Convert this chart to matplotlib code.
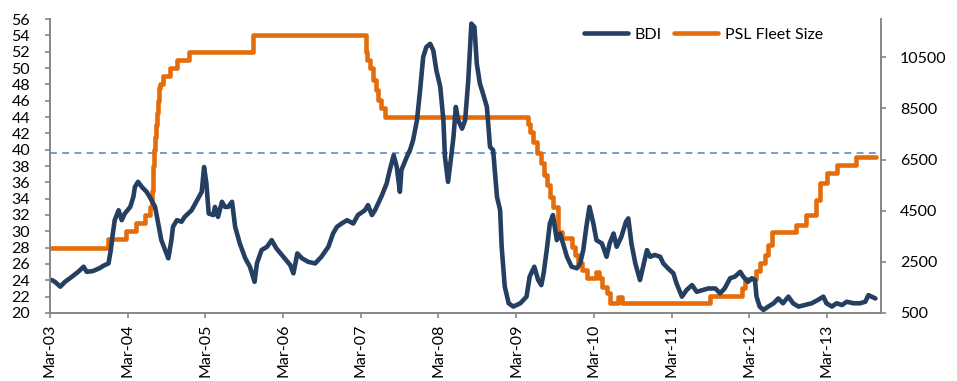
import matplotlib.pyplot as plt

# Baltic Dry Index (right axis), time as decimal years
bdi_year = [
    2003.19, 2003.23, 2003.30, 2003.36, 2003.45, 2003.53, 2003.60, 2003.64, 2003.72, 2003.81,
    2003.85, 2003.92, 2003.95, 2003.97, 2004.00, 2004.05, 2004.09, 2004.13, 2004.20, 2004.24,
    2004.26, 2004.30, 2004.35, 2004.41, 2004.45, 2004.52, 2004.56, 2004.60, 2004.65, 2004.69,
    2004.73, 2004.75, 2004.80, 2004.86, 2004.90, 2004.99, 2005.05, 2005.12, 2005.15, 2005.18,
    2005.21, 2005.27, 2005.29, 2005.33, 2005.38, 2005.42, 2005.46, 2005.51, 2005.55, 2005.61,
    2005.68, 2005.74, 2005.80, 2005.83, 2005.89, 2005.96, 2006.02, 2006.08, 2006.17, 2006.26,
    2006.30, 2006.35, 2006.41, 2006.49, 2006.58, 2006.66, 2006.75, 2006.81, 2006.86, 2006.92,
    2006.99, 2007.07, 2007.13, 2007.22, 2007.26, 2007.31, 2007.35, 2007.39, 2007.44, 2007.50,
    2007.54, 2007.59, 2007.63, 2007.67, 2007.69, 2007.76, 2007.80, 2007.84, 2007.89, 2007.93,
    2007.97, 2008.01, 2008.06, 2008.10, 2008.14, 2008.19, 2008.23, 2008.25, 2008.29, 2008.33,
    2008.36, 2008.39, 2008.42, 2008.47, 2008.51, 2008.55, 2008.59, 2008.63, 2008.66, 2008.70,
    2008.74, 2008.79, 2008.83, 2008.87, 2008.92, 2008.96, 2008.98, 2009.02, 2009.07, 2009.13,
    2009.22, 2009.30, 2009.34, 2009.40, 2009.45, 2009.49, 2009.52, 2009.56, 2009.60, 2009.64,
    2009.69, 2009.73, 2009.77, 2009.82, 2009.88, 2009.95, 2009.99, 2010.03, 2010.07, 2010.11,
    2010.16, 2010.20, 2010.27, 2010.33, 2010.37, 2010.42, 2010.46, 2010.52, 2010.58, 2010.61,
    2010.65, 2010.70, 2010.76, 2010.80, 2010.85, 2010.89, 2010.95, 2011.02, 2011.06, 2011.12,
    2011.19, 2011.23, 2011.30, 2011.36, 2011.43, 2011.49, 2011.57, 2011.64, 2011.73, 2011.79,
    2011.85, 2011.92, 2011.98, 2012.05, 2012.09, 2012.15, 2012.20, 2012.24, 2012.26, 2012.30,
    2012.35, 2012.41, 2012.48, 2012.54, 2012.60, 2012.67, 2012.73, 2012.80, 2012.88, 2012.97,
    2013.05, 2013.12, 2013.16, 2013.23, 2013.29, 2013.36, 2013.42, 2013.51, 2013.59, 2013.66,
    2013.70, 2013.74, 2013.79,
]
bdi_value = [
    1790, 1720, 1530, 1720, 1920, 2110, 2310, 2110, 2140, 2260,
    2340, 2440, 2960, 3480, 4130, 4520, 4130, 4390, 4650, 5040,
    5430, 5630, 5430, 5240, 5040, 4650, 4000, 3350, 2960, 2640,
    3350, 3870, 4130, 4070, 4260, 4520, 4850, 5240, 6210, 5570,
    4390, 4330, 4650, 4260, 4850, 4650, 4650, 4850, 3870, 3220,
    2640, 2310, 1720, 2440, 2960, 3090, 3350, 3030, 2700, 2370,
    2050, 2830, 2640, 2500, 2440, 2700, 3090, 3610, 3870, 4000,
    4130, 4000, 4330, 4520, 4720, 4330, 4520, 4780, 5110, 5570,
    6090, 6670, 6210, 5240, 6090, 6610, 6870, 7260, 8040, 9210,
    10510, 10900, 11030, 10770, 9990, 9340, 8040, 6610, 5630, 6610,
    7390, 8560, 8040, 7710, 8040, 9600, 11820, 11680, 10250, 9470,
    9080, 8560, 7000, 6870, 5040, 4520, 3090, 1530, 880, 750,
    880, 1140, 1920, 2310, 1790, 1590, 2050, 2960, 4000, 4330,
    3350, 3610, 3220, 2700, 2310, 2250, 2440, 2960, 3870, 4650,
    4000, 3350, 3220, 2700, 3220, 3610, 3090, 3480, 4070, 4200,
    3220, 2440, 1790, 2310, 2960, 2700, 2770, 2700, 2440, 2250,
    2050, 1660, 1140, 1400, 1590, 1330, 1400, 1460, 1460, 1270,
    1460, 1860, 1920, 2110, 1920, 1720, 1860, 1790, 1140, 750,
    620, 750, 880, 1070, 880, 1140, 880, 750, 810, 880,
    1010, 1140, 880, 750, 880, 810, 940, 880, 880, 940,
    1200, 1140, 1070,
]

# PSL fleet size (left axis), level from each change date onwards
fleet_year = [
    2003.17, 2003.91, 2004.14, 2004.27, 2004.39, 2004.45, 2004.48, 2004.49, 2004.51, 2004.52,
    2004.53, 2004.54, 2004.56, 2004.57, 2004.58, 2004.62, 2004.71, 2004.80, 2004.96, 2005.78,
    2007.23, 2007.25, 2007.28, 2007.32, 2007.36, 2007.39, 2007.43, 2007.48, 2009.32, 2009.34,
    2009.38, 2009.43, 2009.49, 2009.52, 2009.56, 2009.60, 2009.64, 2009.70, 2009.76, 2009.88,
    2009.92, 2009.96, 2010.01, 2010.08, 2010.19, 2010.23, 2010.27, 2010.34, 2010.37, 2010.48,
    2010.53, 2011.66, 2012.07, 2012.11, 2012.25, 2012.30, 2012.37, 2012.41, 2012.46, 2012.77,
    2012.90, 2013.03, 2013.08, 2013.17, 2013.30, 2013.54, 2013.80,
]
fleet_value = [
    28, 29, 30, 31, 32, 33, 35, 38, 40, 41.5,
    43, 44.5, 46, 47.5, 48, 49, 50, 51, 52, 54,
    52, 51, 50, 48.5, 47.3, 46.1, 45.1, 44, 43.2, 42.2,
    41, 39.6, 38.4, 36.9, 35.7, 34.2, 33, 29.9, 29.2, 28.1,
    27.1, 26.1, 25.3, 24.3, 25, 24.3, 23.2, 22.4, 21.2, 22,
    21.2, 22.1, 23.1, 24.2, 25.2, 26.1, 27.1, 28.3, 29.9, 30.8,
    32, 33.8, 35.9, 37.1, 38.1, 39.1, 39.1,
]

ref_level = 39.6

tick_year = [2003 + 2 / 12 + i for i in range(11)]
tick_label = ['Mar-%02d' % (3 + i) for i in range(11)]

NAVY = '#243F62'
ORANGE = '#E46C0A'
GREY = '#868686'

plt.rcParams['font.family'] = ['Lato', 'DejaVu Sans']
plt.rcParams['font.size'] = 11.5

fig = plt.figure(figsize=(9.57, 3.81), dpi=100)
ax = fig.add_axes([0.0522, 0.1785, 0.8684, 0.7716])
ax2 = ax.twinx()

ax.axhline(ref_level, color='#4F81BD', lw=1.1, ls=(0, (4.5, 3.5)), zorder=1)
fleet_line, = ax.plot(fleet_year, fleet_value, color=ORANGE, lw=3.3,
                      drawstyle='steps-post', solid_capstyle='round',
                      solid_joinstyle='round', zorder=2, label='PSL Fleet Size')
bdi_line, = ax2.plot(bdi_year, bdi_value, color=NAVY, lw=3.3,
                     solid_capstyle='round', solid_joinstyle='round',
                     label='BDI')

ax.set_xlim(2003 + 2 / 12, 2013.862)
ax.set_ylim(20, 56)
ax.set_yticks(range(20, 57, 2))
ax2.set_ylim(500, 12000)
ax2.set_yticks(range(500, 10501, 2000))

ax.set_xticks(tick_year)
ax.set_xticklabels(tick_label, rotation=90)

for a in (ax, ax2):
    a.spines['top'].set_visible(False)
    for s in ('left', 'right', 'bottom'):
        a.spines[s].set_color(GREY)
        a.spines[s].set_linewidth(1.2)
    a.tick_params(colors=GREY, labelcolor='black', length=3.8, width=1.2)
ax.tick_params(axis='y', pad=10.5)
ax2.tick_params(axis='y', pad=10)
ax.tick_params(axis='x', pad=4)

leg = ax2.legend([bdi_line, fleet_line], ['BDI', 'PSL Fleet Size'],
                 loc='center left', bbox_to_anchor=(0.633, 0.946), ncol=2,
                 frameon=False, borderpad=0, handlelength=2.75,
                 handletextpad=0.4, columnspacing=0.8)

fig.savefig('out.png', dpi=100)
